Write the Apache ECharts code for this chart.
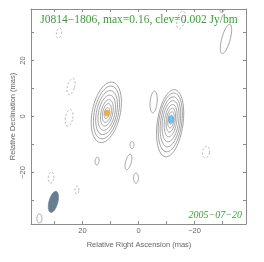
<!DOCTYPE html>
<html><head><meta charset="utf-8">
<script src="https://cdn.jsdelivr.net/npm/echarts@6/dist/echarts.min.js"></script>
<style>html,body{margin:0;padding:0;background:#fff}#c{width:264px;height:262px}</style>
</head><body><div id="c"></div>
<script>
// Axis ticks / labels (mas)
const tickValues = [-30, -20, -10, 0, 10, 20, 30];
const labelValues = [-20, 0, 20];
const axisRange = [-38.4, 38.4];

// Contours: [RA offset, Dec offset, semi-major, semi-minor, tilt deg] (mas)
const leftSourceContours = [
  [11.5, 1.5, 11.0, 5.0, 12],
  [11.45, 1.45, 9.6, 4.3, 12],
  [11.4, 1.4, 8.0, 3.6, 12],
  [11.35, 1.35, 6.4, 2.9, 12],
  [11.3, 1.3, 4.8, 2.1, 12],
  [11.3, 1.25, 3.4, 1.5, 12],
  [11.3, 1.25, 2.0, 0.9, 12]
];
const rightSourceContours = [
  [-11.3, -2.4, 12.1, 4.6, 8],
  [-11.35, -2.1, 10.6, 4.1, 8],
  [-11.4, -1.9, 9.0, 3.5, 8],
  [-11.45, -1.7, 7.4, 2.9, 8],
  [-11.5, -1.5, 5.8, 2.2, 8],
  [-11.55, -1.3, 4.3, 1.6, 8],
  [-11.6, -1.2, 2.9, 1.1, 8],
  [-11.6, -1.1, 1.6, 0.6, 8]
];
const otherPositiveContours = [
  [-29.8, 38.0, 0.9, 0.7, 0],
  [-31.25, 27.7, 5.4, 1.5, 15],
  [-5.4, 5.2, 3.9, 1.25, 5],
  [2.3, -10.2, 1.25, 0.7, 0],
  [14.8, -15.9, 1.4, 0.7, 8],
  [3.6, -16.25, 2.9, 1.0, 15],
  [0.9, -22.0, 1.8, 0.9, 0],
  [35.4, -36.4, 1.6, 0.9, 0]
];
const negativeContours = [
  [28.4, 29.8, 1.8, 0.9, 10],
  [-15.2, 34.5, 3.2, 1.4, 15],
  [24.1, 10.7, 3.0, 1.25, 15],
  [24.8, -0.5, 3.0, 1.3, 10],
  [-24.1, -12.7, 2.1, 1.25, 10],
  [31.25, -21.8, 2.0, 1.0, 5],
  [22.0, -26.25, 1.4, 0.7, 0]
];
const beam = [[30.4, -30.5, 3.9, 1.6, 15]];
// Model components
const componentA = [[11.3, 1.25]];
const componentB = [[-11.6, -1.1]];

const titleText = 'J0814\u22121806, max=0.16, clev=0.002 Jy/bm';
const dateText = '2005\u221207\u221220';
const xName = 'Relative Right Ascension (mas)';
const yName = 'Relative Declination (mas)';

function ellipseRenderer(opts) {
  return function (params, api) {
    const c = api.coord([api.value(0), api.value(1)]);
    const s = api.size([1, 1]);
    const a = api.value(2), b = api.value(3), th = api.value(4) * Math.PI / 180;
    const pts = [];
    const N = 64;
    for (let i = 0; i < N; i++) {
      const t = i / N * Math.PI * 2;
      const u = a * Math.sin(t), v = b * Math.cos(t);
      pts.push([c[0] + (u * Math.sin(th) + v * Math.cos(th)) * s[0],
                c[1] + (-u * Math.cos(th) + v * Math.sin(th)) * s[1]]);
    }
    return {
      type: 'polygon', shape: { points: pts },
      style: opts
    };
  };
}
const minus = v => v < 0 ? '\u2212' + Math.abs(v) : String(v);
const frameColor = '#8c8c8c';
const labelStyle = { color: '#666', fontSize: 7.5, fontFamily: 'Liberation Sans' };

const chart = echarts.init(document.getElementById('c'), null, { renderer: 'canvas' });
const common = (pos) => ({
  min: axisRange[0], max: axisRange[1],
  axisLine: { show: true, onZero: false, lineStyle: { color: frameColor, width: 1 } },
  axisTick: { show: true, inside: true, length: 3, customValues: tickValues, lineStyle: { color: frameColor } },
  splitLine: { show: false }
});
chart.setOption({
  animation: false,
  grid: { left: 31, top: 9, width: 215, height: 215 },
  xAxis: [
    Object.assign(common(), { type: 'value', position: 'bottom', inverse: true,
      axisLabel: Object.assign({ show: true, margin: 3, customValues: labelValues, formatter: minus }, labelStyle) }),
    Object.assign(common(), { type: 'value', position: 'top', inverse: true, axisLabel: { show: false } })
  ],
  yAxis: [
    Object.assign(common(), { type: 'value', position: 'left',
      axisLabel: Object.assign({ show: true, margin: 4, rotate: 90, customValues: labelValues, formatter: minus }, labelStyle) }),
    Object.assign(common(), { type: 'value', position: 'right', axisLabel: { show: false } })
  ],
  series: [
    { type: 'custom', clip: true, renderItem: ellipseRenderer({ fill: '#687d91', stroke: '#687d91', lineWidth: 0.5 }), data: beam },
    { type: 'custom', clip: true, renderItem: ellipseRenderer({ fill: 'none', stroke: '#8a8a8a', lineWidth: 0.8 }), data: leftSourceContours },
    { type: 'custom', clip: true, renderItem: ellipseRenderer({ fill: 'none', stroke: '#8a8a8a', lineWidth: 0.8 }), data: rightSourceContours },
    { type: 'custom', clip: true, renderItem: ellipseRenderer({ fill: 'none', stroke: '#8a8a8a', lineWidth: 0.8 }), data: otherPositiveContours },
    { type: 'custom', clip: true, renderItem: ellipseRenderer({ fill: 'none', stroke: '#9a9a9a', lineWidth: 0.8, lineDash: [2, 2] }), data: negativeContours },
    { type: 'scatter', symbol: 'circle', symbolSize: [5, 7], itemStyle: { color: '#ee9a12' }, data: componentA, z: 5 },
    { type: 'scatter', symbol: 'circle', symbolSize: [6, 8], itemStyle: { color: '#5eb0e8' }, data: componentB, z: 5 }
  ],
  graphic: [
    { type: 'text', x: 139, y: 20, z: 10, style: { text: titleText, fill: '#3f9a3f', font: '11.5px "Liberation Serif"', align: 'center', verticalAlign: 'middle' } },
    { type: 'text', x: 242, y: 215, z: 10, style: { text: dateText, fill: '#3f9a3f', font: 'italic 10px "Liberation Serif"', align: 'right', verticalAlign: 'middle' } },
    { type: 'text', x: 139, y: 245, style: { text: xName, fill: '#666', font: '7.5px "Liberation Sans"', align: 'center', verticalAlign: 'middle' } },
    { type: 'text', x: 13, y: 116.5, rotation: Math.PI / 2, style: { text: yName, fill: '#666', font: '7.5px "Liberation Sans"', align: 'center', verticalAlign: 'middle' } }
  ]
});
</script></body></html>
